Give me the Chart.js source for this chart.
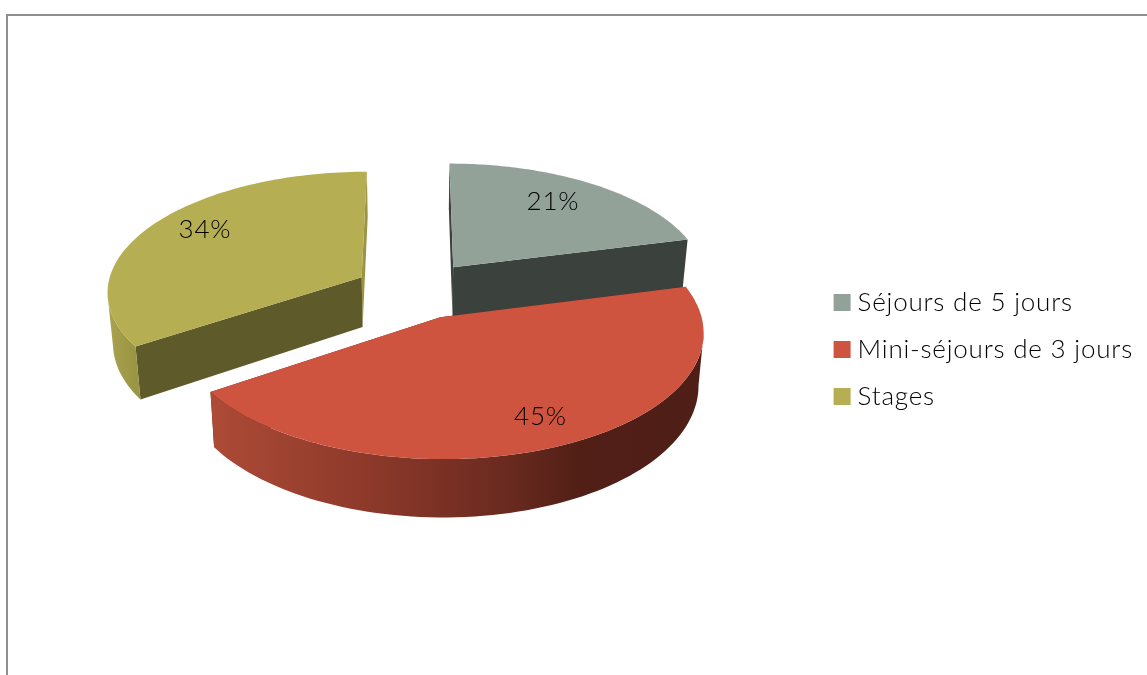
<!DOCTYPE html>
<html>
<head>
<meta charset="utf-8">
<script src="https://cdn.jsdelivr.net/npm/chart.js@4"></script>
<style>
    html, body { margin: 0; padding: 0; background: #fff; overflow: hidden; }
    #frame { position: absolute; left: 6px; top: 14px; width: 1200px; height: 800px; border: 2px solid #8e8e8e; }
    #pie3d { position: absolute; left: 0; top: 0; }
</style>
</head>
<body>
<div id="frame"></div>
<canvas id="pie3d" width="1147" height="675"></canvas>
<script>
const categories = ['Séjours de 5 jours', 'Mini-séjours de 3 jours', 'Stages'];
const shares = [21, 44.6, 34.4];

const topColors = ['#93a299', '#cf543f', '#b5ae53'];
const cutColors = ['#3b413c', '#5a2018', '#5f5a2a'];
const tailCutColors = ['#3b413c', '#5a2018', '#9a9445'];
const sideStops = [
    [[0, '#3b413c'], [1, '#3b413c']],
    [[0, '#ad4b36'], [0.3, '#8f3a2b'], [0.6, '#6a2a1f'], [0.75, '#511f16'], [1, '#4f1e16']],
    [[0, '#aaa44e'], [1, '#9a9445']]
];
const explode = [64, 61, 61];
const labelDx = [-11, 6, 10];
const labelDy = [2, 1, -6];

// fake 3d view: the arcs keep their library geometry, only the projection is added
const tilt = 0.47;
const persp = 0.11;
const depth = 50.5;
const spread = 0.018;
const shiftY = -59;
const labelRadius = 0.79;

function project(el, wx, wy, z) {
    const w = 1 - persp * wy / el.outerRadius;
    return {
        x: el.x + wx / (w * (1 + spread * z)),
        y: el.y + shiftY + (tilt * wy + depth * z) / w
    };
}

function slicePoints(el, z) {
    const offset = el.options.offset;
    const mid = (el.startAngle + el.endAngle) / 2;
    const ox = Math.cos(mid) * offset;
    const oy = Math.sin(mid) * offset;
    const steps = 90;
    const pts = [];
    for (let i = 0; i <= steps; i++) {
        const a = el.startAngle + (el.endAngle - el.startAngle) * i / steps;
        pts.push(project(el, ox + Math.cos(a) * el.outerRadius, oy + Math.sin(a) * el.outerRadius, z));
    }
    return pts;
}

function apexPoint(el, z) {
    const mid = (el.startAngle + el.endAngle) / 2;
    return project(el, Math.cos(mid) * el.options.offset, Math.sin(mid) * el.options.offset, z);
}

function fillPoly(ctx, pts, fill) {
    ctx.beginPath();
    pts.forEach((p, i) => i ? ctx.lineTo(p.x, p.y) : ctx.moveTo(p.x, p.y));
    ctx.closePath();
    ctx.fillStyle = fill;
    ctx.fill();
}

function drawSlice(ctx, el, i) {
    const top = slicePoints(el, 0);
    const bottom = slicePoints(el, 1);
    const apex = apexPoint(el, 0);
    const apexLow = apexPoint(el, 1);
    const last = top.length - 1;

    // cut faces
    fillPoly(ctx, [apex, top[last], bottom[last], apexLow], tailCutColors[i]);
    fillPoly(ctx, [apex, top[0], bottom[0], apexLow], cutColors[i]);

    // outer wall, only the part facing us (x falls as the angle grows)
    const front = [];
    for (let k = 0; k <= last; k++) {
        const falling = k < last ? top[k + 1].x < top[k].x : top[k].x < top[k - 1].x;
        if (falling) front.push(k);
    }
    if (front.length > 1) {
        const xs = front.map(k => top[k].x);
        const grad = ctx.createLinearGradient(Math.min(...xs), 0, Math.max(...xs), 0);
        sideStops[i].forEach(s => grad.addColorStop(s[0], s[1]));
        const wall = front.map(k => top[k]).concat(front.slice().reverse().map(k => bottom[k]));
        fillPoly(ctx, wall, grad);
    }

    // top face
    fillPoly(ctx, [apex].concat(top), topColors[i]);
}

const pie3dPlugin = {
    id: 'pie3d',
    beforeUpdate(chart) {
        chart.ctx.letterSpacing = '0.8px';
    },
    beforeDatasetsDraw(chart) {
        const ctx = chart.ctx;
        const arcs = chart.getDatasetMeta(0).data;
        const midSin = el => Math.sin((el.startAngle + el.endAngle) / 2);
        const order = arcs.map((el, i) => i).sort((a, b) => midSin(arcs[a]) - midSin(arcs[b]));
        ctx.save();
        order.forEach(i => drawSlice(ctx, arcs[i], i));

        ctx.fillStyle = '#000';
        ctx.font = "300 26px Lato";
        ctx.textAlign = 'center';
        ctx.textBaseline = 'middle';
        arcs.forEach((el, i) => {
            const mid = (el.startAngle + el.endAngle) / 2;
            const dist = el.options.offset + el.outerRadius * labelRadius;
            const p = project(el, Math.cos(mid) * dist, Math.sin(mid) * dist, 0);
            ctx.fillText(Math.round(shares[i]) + '%', p.x + labelDx[i], p.y + labelDy[i]);
        });
        ctx.restore();
        return false;
    }
};

new Chart(document.getElementById('pie3d'), {
    type: 'pie',
    data: {
        labels: categories,
        datasets: [{
            data: shares,
            backgroundColor: topColors,
            borderWidth: 0,
            offset: explode,
            radius: 255
        }]
    },
    options: {
        responsive: false,
        animation: false,
        layout: {
            padding: { top: 24, left: 11, right: 4 }
        },
        plugins: {
            tooltip: { enabled: false },
            legend: {
                position: 'right',
                labels: {
                    color: '#000',
                    font: { family: 'Lato', size: 26, weight: '300' },
                    padding: 21,
                    usePointStyle: true,
                    pointStyle: 'rect',
                    boxWidth: 5,
                    boxHeight: 17
                }
            }
        }
    },
    plugins: [pie3dPlugin]
});
</script>
</body>
</html>
